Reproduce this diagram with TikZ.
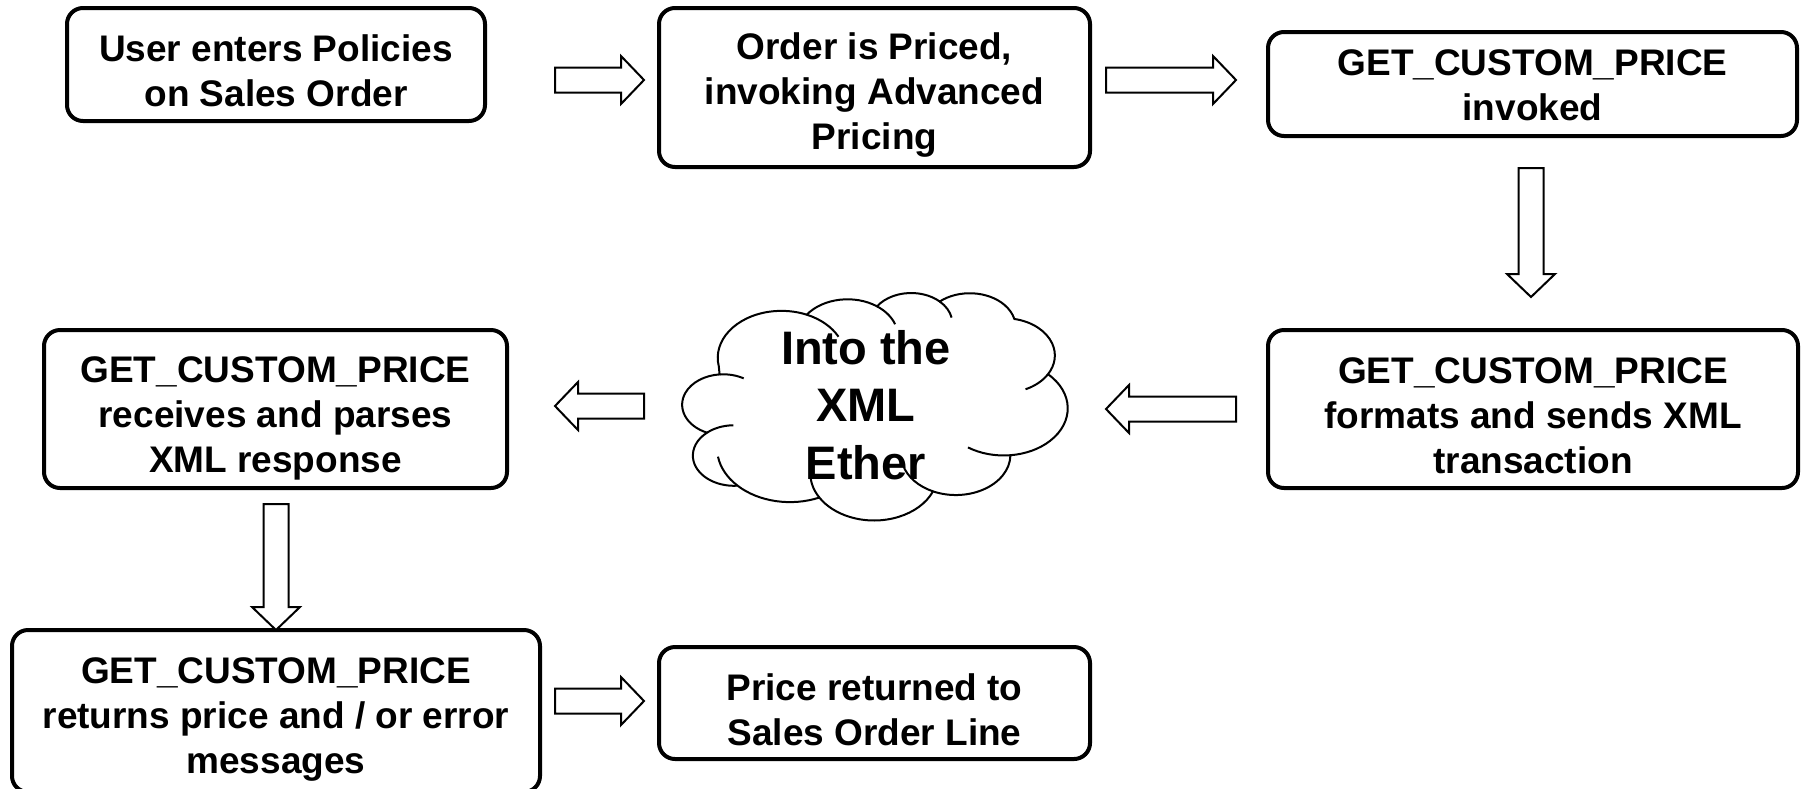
\documentclass[tikz,border=0pt]{standalone}
\usepackage{fontspec}
\setmainfont{Liberation Sans}
\usetikzlibrary{calc}
\tikzset{
  x=1pt, y=-1pt,
  box/.style={draw, line width=4pt, rounded corners=16pt, inner sep=0pt},
  txt/.style={align=center, font=\bfseries\fontsize{37}{45}\selectfont, inner sep=0pt},
  blk/.style={draw, line width=2pt, fill=white, line join=miter},
  cloudline/.style={draw, line width=2pt, fill=white},
  cloudinner/.style={draw=black, line width=2pt},
  cloudtext/.style={align=center, font=\bfseries\fontsize{47}{57.5}\selectfont, inner sep=0pt},
}
\newcommand\blockarrow[2]{%
  \coordinate (ba-n) at ($(#2)!23pt!(#1)$);
  \draw[blk] ($(#1)!12.5pt!90:(#2)$) -- ($(ba-n)!12.5pt!-90:(#1)$)
    -- ($(ba-n)!24pt!-90:(#1)$) -- (#2) -- ($(ba-n)!24pt!90:(#1)$)
    -- ($(ba-n)!12.5pt!90:(#1)$) -- ($(#1)!12.5pt!-90:(#2)$) -- cycle;}
% cloud outline: chain of elliptic arcs; each lobe may continue past its cusp
\def\cw{408}\def\ch{221}
\def\cloudpath{}
\def\cloudinnerarcs{}
\newcount\cloudk
\newcommand\addcloudarc[5]{%
  \global\advance\cloudk by 1
  \pgfmathsetmacro\crx{\cw*#1}%
  \pgfmathsetmacro\cry{\ch*#2}%
  \pgfmathsetmacro\cps{#3}%
  \pgfmathsetmacro\cpe{#3+#4}%
  \pgfmathsetmacro\cpx{#3+#4+#5}%
  \xdef\cloudpath{\unexpanded\expandafter{\cloudpath} arc[start angle=\cps, end angle=\cpe, x radius=\crx, y radius=\cry] coordinate (cp\the\cloudk)}%
  \ifdim #5pt>0pt
    \xdef\cloudinnerarcs{\unexpanded\expandafter{\cloudinnerarcs}\noexpand\draw[cloudinner] (cp\the\cloudk) arc[start angle=\cpe, end angle=\cpx, x radius=\crx, y radius=\cry];}%
  \fi
}
\begin{document}
\begin{tikzpicture}
\useasboundingbox (0,0) rectangle (1803,788);
% boxes
\node[box, minimum width=418pt, minimum height=113pt] (b1) at (276,64.5) {};
\node[box, minimum width=431pt, minimum height=159pt] (b2) at (874.5,87.5) {};
\node[box, minimum width=529pt, minimum height=104pt] (b3) at (1532.5,84) {};
\node[box, minimum width=530pt, minimum height=158pt] (b4) at (1533,409) {};
\node[box, minimum width=463pt, minimum height=158pt] (b5) at (275.5,409) {};
\node[box, minimum width=528pt, minimum height=162pt] (b6) at (276,711) {};
\node[box, minimum width=431pt, minimum height=112pt] (b7) at (874.5,703) {};
\node[txt] (t1) at ($(b1.center)+(0,6)$) {User enters Policies\\on Sales Order};
\node[txt] (t2) at ($(b2.center)+(0,8)$) {Order is Priced,\\invoking Advanced\\Pricing};
\node[txt] (t3) at ($(b3.center)+(0,1)$) {GET\_CUSTOM\_PRICE\\invoked};
\node[txt] (t4) at ($(b4.center)+(0,7)$) {GET\_CUSTOM\_PRICE\\formats and sends XML\\transaction};
\node[txt] (t5) at ($(b5.center)+(0,9)$) {GET\_CUSTOM\_PRICE\\receives and parses\\XML response};
\node[txt] (t6) at ($(b6.center)+(0,8)$) {GET\_CUSTOM\_PRICE\\returns price and / or error\\messages};
\node[txt] (t7) at ($(b7.center)+(0,7)$) {Price returned to\\Sales Order Line};
% cloud
\addcloudarc{0.15632}{0.21273}{-190.4875}{123.7805}{40}
\addcloudarc{0.12345}{0.16822}{-144.1024}{89.9452}{35}
\addcloudarc{0.10104}{0.13762}{-145.8079}{99.7230}{35}
\addcloudarc{0.11243}{0.15266}{-130.9861}{117.2417}{0}
\addcloudarc{0.12345}{0.16836}{-78.7089}{109.0269}{35}
\addcloudarc{0.15683}{0.21343}{-46.2673}{130.2690}{40}
\addcloudarc{0.13391}{0.18211}{0.6250}{114.0333}{50}
\addcloudarc{0.15630}{0.21331}{22.4654}{126.6571}{35}
\addcloudarc{0.17870}{0.24405}{66.2412}{69.7033}{35}
\addcloudarc{0.10093}{0.13699}{-274.9421}{143.9663}{40}
\addcloudarc{0.10058}{0.13762}{-246.8285}{151.8065}{35}
\coordinate (cs) at (718.8,366.4);
\draw[cloudline] (cs) \cloudpath -- cycle;
\cloudinnerarcs
\node[cloudtext] (clt) at (866,405) {Into the\\XML\\Ether};
% arrow end points
\coordinate (a1s) at (555,80);   \coordinate (a1e) at (644,80);
\coordinate (a2s) at (1106,80);  \coordinate (a2e) at (1236,80);
\coordinate (a3s) at (1531,168); \coordinate (a3e) at (1531,297);
\coordinate (a4s) at (1236,409); \coordinate (a4e) at (1106,409);
\coordinate (a5s) at (644,406);  \coordinate (a5e) at (555,406);
\coordinate (a6s) at (276,504);  \coordinate (a6e) at (276,630);
\coordinate (a7s) at (555,701);  \coordinate (a7e) at (644,701);
\blockarrow{a1s}{a1e}
\blockarrow{a2s}{a2e}
\blockarrow{a3s}{a3e}
\blockarrow{a4s}{a4e}
\blockarrow{a5s}{a5e}
\blockarrow{a6s}{a6e}
\blockarrow{a7s}{a7e}
\end{tikzpicture}
\end{document}
